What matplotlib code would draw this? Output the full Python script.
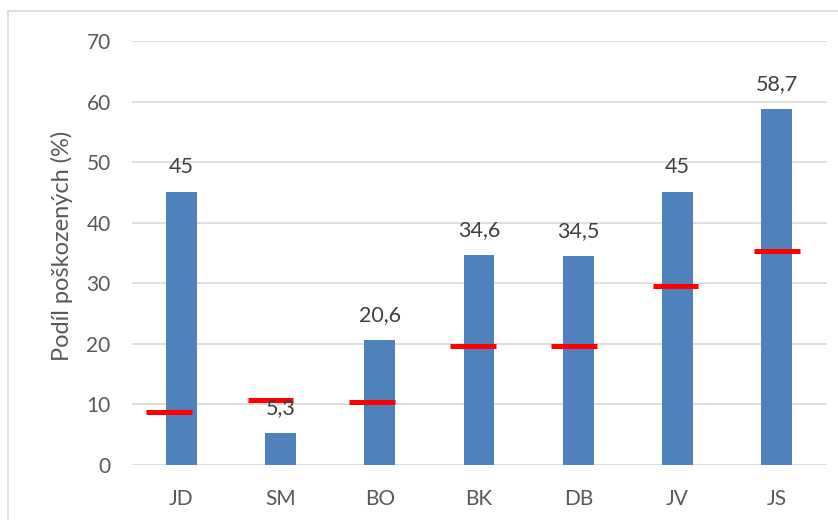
import numpy as np
import matplotlib.pyplot as plt
from matplotlib.patches import Rectangle

# data
categories = ['JD', 'SM', 'BO', 'BK', 'DB', 'JV', 'JS']
podil = [45, 5.3, 20.6, 34.6, 34.5, 45, 58.7]
znacky = [8.8, 10.8, 10.4, 19.6, 19.6, 29.6, 35.4]
popisky = ['45', '5,3', '20,6', '34,6', '34,5', '45', '58,7']

plt.rcParams['font.family'] = ['Lato', 'DejaVu Sans']

fig = plt.figure(figsize=(8.38, 5.2), dpi=100)
ax = fig.add_axes([131.5 / 838, 1 - 465 / 520, (826.5 - 131.5) / 838, (465 - 41) / 520])

# ramecek grafu
fig.patches.append(Rectangle((8 / 838, -0.1), 1.0, 1 - 11 / 520 + 0.1,
                             transform=fig.transFigure, fill=False,
                             edgecolor='#d9d9d9', lw=1.2))

x = np.arange(len(categories))
ax.bar(x, podil, width=0.31, color='#4f81bd', zorder=2)

# cervene znacky - mirne posunute doleva jako v originale
posun = -0.12 + 0.02 * x
ax.hlines(znacky, x + posun - 0.23, x + posun + 0.23, colors='#ff0000', lw=3.6, zorder=3)

for xi, v, t in zip(x, podil, popisky):
    ax.annotate(t, (xi, v), xytext=(0, 18), textcoords='offset points',
                ha='center', va='center', fontsize=15.5, color='#404040')

ax.set_xlim(-0.5, 6.5)
ax.set_ylim(0, 70)
ax.set_yticks(np.arange(0, 71, 10))
ax.set_xticks(x)
ax.set_xticklabels(categories)
ax.grid(axis='y', color='#d9d9d9', lw=1.2, zorder=0)
ax.set_axisbelow(True)
for s in ax.spines.values():
    s.set_visible(False)
ax.tick_params(axis='both', length=0, labelsize=15, colors='#595959')
ax.tick_params(axis='y', pad=15)
ax.tick_params(axis='x', pad=17)

fig.text(62 / 838, 1 - 246 / 520, 'Podíl poškozených (%)', rotation=90,
         ha='center', va='center', fontsize=17, color='#595959')

fig.savefig('out.png', dpi=100)
